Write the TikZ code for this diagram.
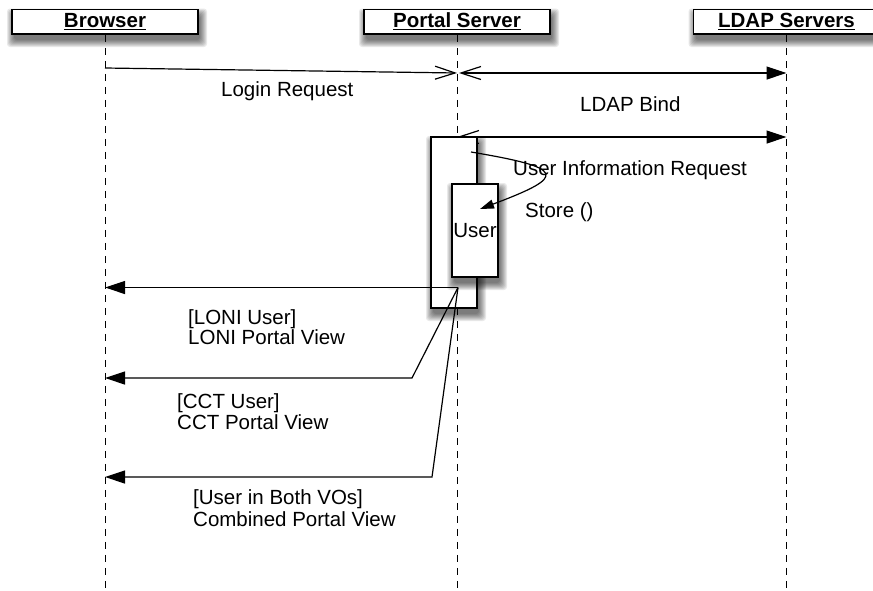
\documentclass[tikz,border=0pt]{standalone}
\usepackage{fontspec}
\setmainfont{Liberation Sans}
\usetikzlibrary{arrows.meta}
\newcommand\fzshadow[4]{%
  \foreach \r in {1,...,8}{%
    \fill[black,opacity=0.085,rounded corners=3pt] (#1+\r-6,#2+\r-2) rectangle (#3+10-\r,#4+14-\r);}}
\begin{document}
\begin{tikzpicture}[x=1pt,y=-1pt,
  every node/.style={inner sep=0pt},
  lbl/.style={font=\fontsize{20.5}{19}\selectfont, anchor=base west},
  head/.style={draw, line width=1.6pt, fill=white, minimum width=186pt, minimum height=24.5pt,
    text height=14.5pt, text depth=3.5pt, font=\fontsize{20.5}{19}\selectfont\bfseries},
  life/.style={line width=1pt, dash pattern=on 7pt off 6pt},
  msg/.style={line width=1.2pt},
  boxx/.style={draw, line width=1.4pt, fill=white},
  openend/.style={-{Straight Barb[length=20pt,width=13pt]}},
  fillend/.style={-{Triangle[length=20pt,width=13pt]}},
  bindarr/.style={{Straight Barb[length=20pt,width=13pt]}-{Triangle[length=20pt,width=13pt]}},
  selfarr/.style={-{Triangle[length=14pt,width=9pt]}}
]
\useasboundingbox (0,0) rectangle (873,590);

% lifelines
\coordinate (brbot) at (105,590);
\coordinate (psbot) at (457,590);
\coordinate (ldbot) at (786.5,590);

% header shadows
\fzshadow{12}{9.5}{198}{34}
\fzshadow{364}{9.5}{550}{34}
\fzshadow{693.5}{9.5}{879.5}{34}

\node[head] (brow) at (105,21.75) {\underline{Browser}};
\node[head] (port) at (457,21.75) {\underline{Portal Server}};
\node[head] (ldap) at (786.5,21.75) {\underline{LDAP Servers}};

\draw[life] (brow.south) -- (brbot);
\draw[life] (port.south) -- (psbot);
\draw[life] (ldap.south) -- (ldbot);

% Login request
\coordinate (lr1) at (105,68);
\coordinate (lr2) at (457,73);
\draw[msg, openend] (lr1) -- (lr2);
\node[lbl] (tlogin) at (221,96) {Login Request};

% LDAP bind
\coordinate (lb1) at (459,73);
\coordinate (lb2) at (786.5,73);
\draw[msg, bindarr] (lb1) -- (lb2);
\node[lbl] (tbind) at (580,111) {LDAP Bind};

% User information request
\coordinate (ui1) at (457,137);
\coordinate (ui2) at (786.5,137);
\draw[msg, bindarr] (ui1) -- (ui2);

% activation box
\fzshadow{431}{137}{477}{308}
\node[boxx, minimum width=46pt, minimum height=171pt] (act) at (454,222.5) {};
\fzshadow{452}{184}{498}{277}
\node[boxx, minimum width=46pt, minimum height=93pt, font=\fontsize{20.5}{19}\selectfont] (ubox) at (475,230.5) {User};

\node[lbl] (tuir) at (513,175) {User Information Request};
\node[lbl] (tstore) at (525,217) {Store ()};

% self message
\coordinate (s1) at (471,152);
\coordinate (s2) at (480,209);
\draw[msg, selfarr] (s1) .. controls (566,168) and (568,176) .. (s2);

% returns
\coordinate (r0) at (458,287.5);
\coordinate (b1) at (105,287.5);
\coordinate (k2) at (412,378);
\coordinate (b2) at (105,378);
\coordinate (k3) at (432,477);
\coordinate (b3) at (105,477);
\draw[msg, fillend] (r0) -- (b1);
\draw[msg, fillend] (r0) -- (k2) -- (b2);
\draw[msg, fillend] (r0) -- (k3) -- (b3);

\node[lbl] (tloni1) at (188,324) {[LONI User]};
\node[lbl] (tloni2) at (188,344) {LONI Portal View};
\node[lbl] (tcct1) at (177,408) {[CCT User]};
\node[lbl] (tcct2) at (177,429) {CCT Portal View};
\node[lbl] (tboth1) at (193,504) {[User in Both VOs]};
\node[lbl] (tboth2) at (193,526) {Combined Portal View};
\end{tikzpicture}
\end{document}
